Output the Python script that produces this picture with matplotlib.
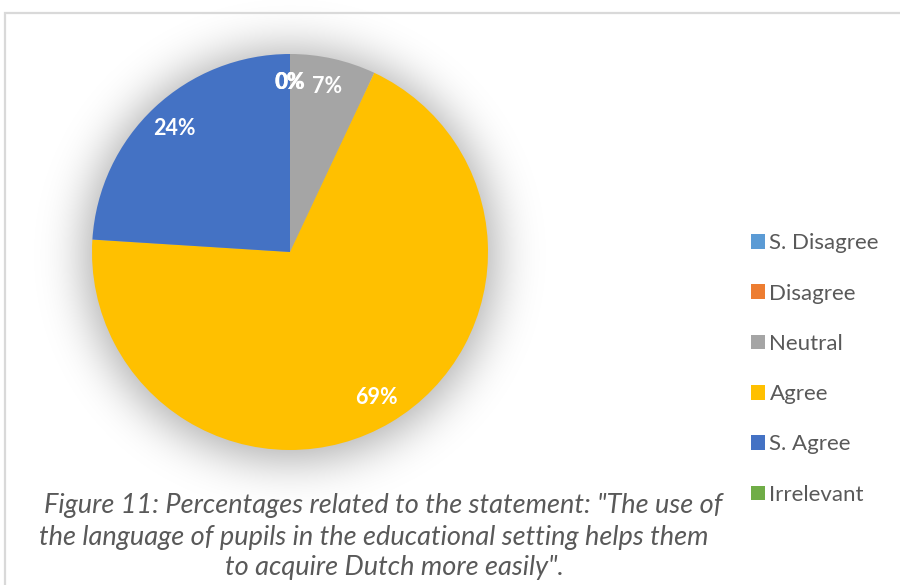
import math
import numpy as np
import matplotlib
matplotlib.use("Agg")
import matplotlib.pyplot as plt
from matplotlib.patches import Rectangle

# survey answers (percent of respondents)
categories = ["S. Disagree", "Disagree", "Neutral", "Agree", "S. Agree", "Irrelevant"]
percentages = [0, 0, 7, 69, 24, 0]
colors = ["#5B9BD5", "#ED7D31", "#A5A5A5", "#FFC000", "#4472C4", "#70AD47"]

caption_lines = [
    'Figure 11: Percentages related to the statement: "The use of',
    "the language of pupils in the educational setting helps them",
    'to acquire Dutch more easily".',
]

W, H = 900, 585
plt.rcParams["font.family"] = ["Lato", "DejaVu Sans"]

fig = plt.figure(figsize=(W / 100, H / 100), dpi=100)
ax = fig.add_axes([0, 0, 1, 1])

cx, cy, R = 290, H - 252, 198

# soft glow under the pie
xx, yy = np.meshgrid(np.arange(W) + 0.5, np.arange(H) + 0.5)
dist = np.hypot(xx - cx, (H - yy) - (cy - 3))
erfc = np.vectorize(math.erfc)
dark = 0.33 * 0.5 * erfc((dist - (R + 6)) / (math.sqrt(2) * 23))
shadow = np.zeros((H, W, 4))
shadow[..., 3] = dark
ax.imshow(shadow, extent=(0, W, 0, H), origin="upper", zorder=0, interpolation="bilinear")

wedges, texts, autotexts = ax.pie(
    percentages, colors=colors, startangle=90, counterclock=False,
    center=(cx, cy), radius=R, frame=True,
    autopct="%1.0f%%", pctdistance=0.855,
    wedgeprops=dict(linewidth=0),
    textprops=dict(color="white", fontweight="bold", fontsize=15.5),
)
for w in wedges:
    w.set_zorder(2)
for t in autotexts:
    t.set_zorder(3)

# chart area border
ax.add_patch(Rectangle((5, -20), W + 20, H - 13 + 20, fill=False,
                       edgecolor="#D9D9D9", linewidth=1.6, zorder=1))

ax.legend(wedges, categories, loc="center left", bbox_to_anchor=(751, H - 369),
          bbox_transform=ax.transData, frameon=False, fontsize=16,
          labelcolor="#595959", handlelength=0.63, handleheight=0.63,
          handletextpad=0.2, labelspacing=1.365, borderpad=0, borderaxespad=0)

caption_pos = [(383, 505), (374, 537), (394, 567)]
for line, (x, y) in zip(caption_lines, caption_pos):
    ax.text(x, H - y, line, ha="center", va="center", style="italic",
            fontsize=19.5, color="#595959", zorder=3)

ax.set_xlim(0, W)
ax.set_ylim(0, H)
ax.set_aspect("equal")
ax.axis("off")

fig.savefig("out.png", dpi=100)
